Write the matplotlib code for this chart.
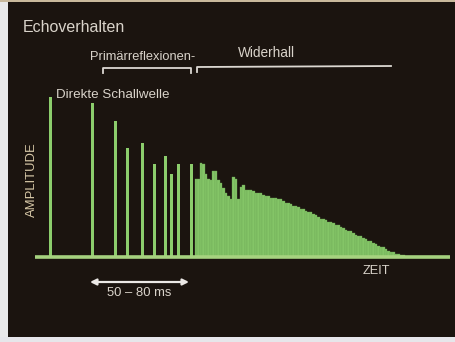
import matplotlib
matplotlib.use("Agg")
import matplotlib.pyplot as plt
from matplotlib.patches import Rectangle
from matplotlib.lines import Line2D

plt.rcParams['font.family'] = ['Liberation Sans', 'DejaVu Sans']

# ---- data (time in ms relative to direct sound, amplitude relative) ----
direct_time = [0.0]
direct_amp = [1.00]

early_times = [21.0, 32.5, 38.5, 46.0, 52.0, 57.5, 60.5, 64.0, 70.5]
early_amps = [0.96, 0.85, 0.68, 0.71, 0.58, 0.63, 0.52, 0.58, 0.58]

reverb_times = [73.0, 74.25, 75.5, 76.75, 78.0, 79.25, 80.5, 81.75, 83.0, 84.25,
                85.5, 86.75, 88.0, 89.25, 90.5, 91.75, 93.0, 94.25, 95.5, 96.75,
                98.0, 99.25, 100.5, 101.75, 103.0, 104.25, 105.5, 106.75, 108.0, 109.25,
                110.5, 111.75, 113.0, 114.25, 115.5, 116.75, 118.0, 119.25, 120.5, 121.75,
                123.0, 124.25, 125.5, 126.75, 128.0, 129.25, 130.5, 131.75, 133.0, 134.25,
                135.5, 136.75, 138.0, 139.25, 140.5, 141.75, 143.0, 144.25, 145.5, 146.75,
                148.0, 149.25, 150.5, 151.75, 153.0, 154.25, 155.5, 156.75, 158.0, 159.25,
                160.5, 161.75, 163.0, 164.25, 165.5, 166.75, 168.0, 169.25, 170.5, 171.75,
                173.0, 174.25, 175.5, 176.75]
reverb_amps = [0.49, 0.49, 0.59, 0.58, 0.52, 0.49, 0.48, 0.54, 0.54, 0.48,
               0.46, 0.43, 0.40, 0.38, 0.36, 0.50, 0.49, 0.36, 0.44, 0.45,
               0.42, 0.42, 0.42, 0.41, 0.40, 0.40, 0.40, 0.39, 0.38, 0.38,
               0.37, 0.37, 0.37, 0.36, 0.36, 0.35, 0.34, 0.34, 0.33, 0.32,
               0.32, 0.31, 0.30, 0.30, 0.29, 0.28, 0.28, 0.27, 0.26, 0.25,
               0.24, 0.24, 0.23, 0.22, 0.22, 0.21, 0.20, 0.20, 0.19, 0.18,
               0.17, 0.16, 0.16, 0.15, 0.14, 0.13, 0.13, 0.12, 0.11, 0.10,
               0.10, 0.09, 0.08, 0.07, 0.06, 0.06, 0.05, 0.04, 0.03, 0.03,
               0.02, 0.02, 0.01, 0.01]

# ---- figure ----
W, H = 456, 342
fig = plt.figure(figsize=(W / 100, H / 100), dpi=100)
fig.patch.set_facecolor('#1b140f')

# photo frame edges
fig.add_artist(Rectangle((0, 0), 8 / W, 1, transform=fig.transFigure,
                         facecolor='#e9e9ea', edgecolor='none', zorder=0))
fig.add_artist(Rectangle((0, 0), 1, 5 / H, transform=fig.transFigure,
                         facecolor='#e6e6ea', edgecolor='none', zorder=0))
fig.add_artist(Rectangle((0, 1 - 2 / H), 1, 2 / H, transform=fig.transFigure,
                         facecolor='#c9b99c', edgecolor='none', zorder=0))

# main axes: baseline at pixel y=257, spans x 35..450
px_per_ms = 2.0
amp_px = 160.0
x0_px, x1_px = 35, 450
ybot_px, ytop_px = 262, 80
ax = fig.add_axes([x0_px / W, (H - ybot_px) / H, (x1_px - x0_px) / W, (ybot_px - ytop_px) / H])
ax.set_facecolor('none')
ax.set_xlim((x0_px - 50) / px_per_ms, (x1_px - 50) / px_per_ms)
ax.set_ylim(-(ybot_px - 257) / amp_px, (257 - ytop_px) / amp_px)
ax.axis('off')

green = '#8ccd6c'
ax.bar(reverb_times, reverb_amps, width=1.3, color='#84c567',
       edgecolor='#6aa553', linewidth=0.25, align='center', zorder=2)
ax.bar(direct_time + early_times, direct_amp + early_amps, width=1.5,
       color=green, edgecolor='none', zorder=3)
ax.axhline(0, color='#a6d27f', linewidth=2.6, zorder=4)

# overlay axes in pixel coordinates for labels
ov = fig.add_axes([0, 0, 1, 1])
ov.set_xlim(0, W)
ov.set_ylim(H, 0)
ov.axis('off')
ov.patch.set_alpha(0)

txt = '#d9d3ca'
ov.text(23, 27, 'Echoverhalten', color=txt, fontsize=11.5, ha='left', va='center')
ov.text(90, 57, 'Primärreflexionen-', color=txt, fontsize=9.3, ha='left', va='center')
ov.text(238, 53, 'Widerhall', color=txt, fontsize=9.8, ha='left', va='center')
ov.text(56, 95, 'Direkte Schallwelle', color=txt, fontsize=9.6, ha='left', va='center')
ov.text(32, 180, 'AMPLITUDE', color='#d8c9a8', fontsize=9.4, rotation=90,
        ha='center', va='center')
ov.text(376, 271, 'ZEIT', color=txt, fontsize=9.2, ha='center', va='center')
ov.text(139, 293, '50 – 80 ms', color=txt, fontsize=9.4, ha='center', va='center')

lc = '#dcd8d2'
ov.add_line(Line2D([103, 103, 191, 191], [73, 68, 68, 73], color=lc, linewidth=1.3))
ov.add_line(Line2D([197, 197, 391], [72, 67, 66], color=lc, linewidth=1.3))

ov.annotate('', xy=(90, 282), xytext=(189, 282),
            arrowprops=dict(arrowstyle='<|-|>', color='#ece9e6', lw=1.6,
                            mutation_scale=9, shrinkA=0, shrinkB=0))

fig.savefig('out.png', dpi=100, facecolor=fig.get_facecolor())
